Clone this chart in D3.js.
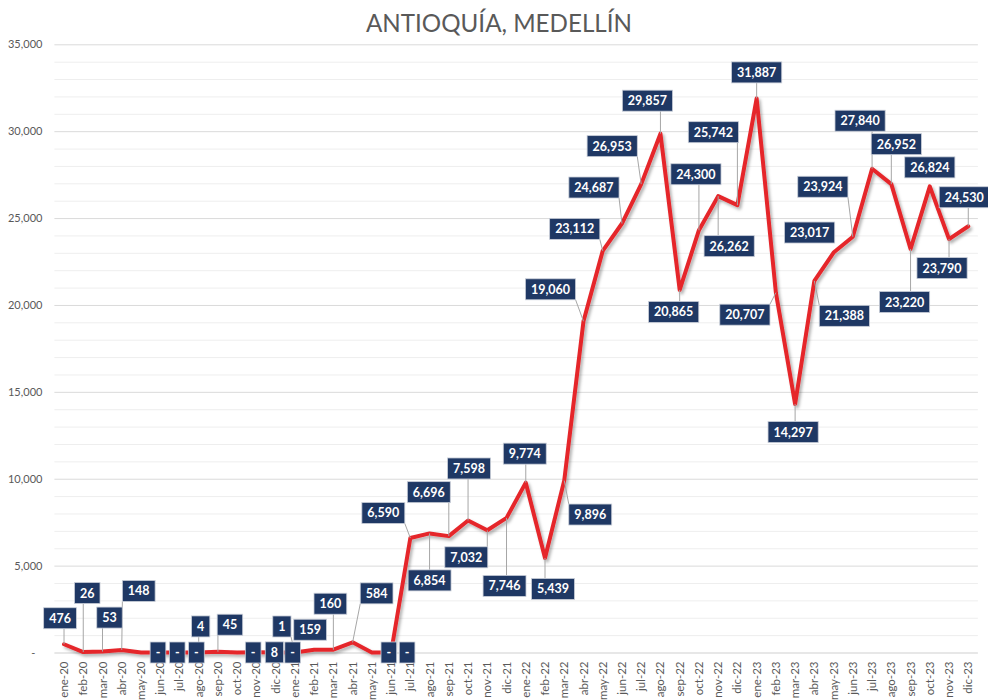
<!DOCTYPE html>
<html>
<head>
<meta charset="utf-8">
<script src="https://cdn.jsdelivr.net/npm/d3@7/dist/d3.min.js"></script>
<style>
  html, body { margin: 0; padding: 0; background: #fff; }
  svg { display: block; }
</style>
</head>
<body>
<svg id="chart" width="988" height="700"></svg>
<script>
// Monthly series, Antioquia - Medellín
const months = [
  "ene-20","feb-20","mar-20","abr-20","may-20","jun-20","jul-20","ago-20","sep-20","oct-20","nov-20","dic-20",
  "ene-21","feb-21","mar-21","abr-21","may-21","jun-21","jul-21","ago-21","sep-21","oct-21","nov-21","dic-21",
  "ene-22","feb-22","mar-22","abr-22","may-22","jun-22","jul-22","ago-22","sep-22","oct-22","nov-22","dic-22",
  "ene-23","feb-23","mar-23","abr-23","may-23","jun-23","jul-23","ago-23","sep-23","oct-23","nov-23","dic-23"
];
const values = [
  476, 26, 53, 148, 0, 0, 0, 4, 45, 0, 8, 0,
  1, 159, 160, 584, 0, 0, 6590, 6854, 6696, 7598, 7032, 7746,
  9774, 5439, 9896, 19060, 23112, 24687, 26953, 29857, 20865, 24300, 26262, 25742,
  31887, 20707, 14297, 21388, 23017, 23924, 27840, 26952, 23220, 26824, 23790, 24530
];
const yTicks = [0, 5000, 10000, 15000, 20000, 25000, 30000, 35000];
const title = "ANTIOQUÍA, MEDELLÍN";

// Label placement: offset of each label centre from its point, in px
const labelOffsets = [
  [-4,-26],[4,-59],[7,-34],[17,-59],[17,0],[17,0],[17,0],[2,-26],[12,-27],[16,0],[18,0],[17,0],
  [-13,-26],[-4,-20],[-3,-46],[24,-49],[17,0],[16,0],[-27,-25],[0,47],[-20,-44],[1,-52],[-21,27],[-2,68],
  [-1,-29],[8,31],[26,34],[-33,-32],[-28,-22],[-28,-36],[-29,-38],[-13,-33],[-6,22],[-3,-56],[11,50],[-24,-73],
  [0,-26],[-31,22],[-2,28],[30,35],[-24,-20],[-30,-50],[-12,-48],[5,-40],[-6,53],[0,-19],[-7,29],[-4,-29]
];

const svg = d3.select("#chart");
const W = 988, H = 700;
const plot = { left: 54.4, right: 977.9, top: 44.3, bottom: 652.5 };

svg.append("rect").attr("width", W).attr("height", H).attr("fill", "#fff");

const defs = svg.append("defs");
const shadow = defs.append("filter").attr("id", "lineShadow")
  .attr("x", "-5%").attr("y", "-5%").attr("width", "110%").attr("height", "110%");
shadow.append("feDropShadow").attr("dx", 2).attr("dy", 2.5)
  .attr("stdDeviation", 1.6).attr("flood-color", "#000").attr("flood-opacity", 0.3);

const x = d3.scaleBand().domain(months).range([plot.left, plot.right]).padding(0);
const y = d3.scaleLinear().domain([0, 35000]).range([plot.bottom, plot.top]);
const cx = m => x(m) + x.bandwidth() / 2;

// Title
svg.append("text")
  .attr("x", 499).attr("y", 32)
  .attr("text-anchor", "middle")
  .attr("font-family", "Lato, 'Open Sans', sans-serif")
  .attr("font-size", 25)
  .attr("fill", "#595959")
  .attr("textLength", 266).attr("lengthAdjust", "spacingAndGlyphs")
  .text(title);

// Gridlines: minor every 1,000 and major every 5,000
const minor = d3.range(1000, 35001, 1000).filter(v => v % 5000 !== 0);
svg.append("g").selectAll("line").data(minor).join("line")
  .attr("x1", plot.left).attr("x2", plot.right)
  .attr("y1", d => y(d) + 0.5).attr("y2", d => y(d) + 0.5)
  .attr("stroke", "#EEEEEE").attr("stroke-width", 1);
svg.append("g").selectAll("line").data(yTicks).join("line")
  .attr("x1", plot.left).attr("x2", plot.right)
  .attr("y1", d => y(d) + 0.5).attr("y2", d => y(d) + 0.5)
  .attr("stroke", d => d === 0 ? "#CFCFCF" : "#DADADA").attr("stroke-width", 1);

// Y axis labels
const yAxis = d3.axisLeft(y).tickValues(yTicks).tickSize(0).tickPadding(0)
  .tickFormat(d => d === 0 ? "-" : d3.format(",")(d));
const gy = svg.append("g").attr("transform", `translate(${plot.left - 12},0)`).call(yAxis);
gy.select(".domain").remove();
gy.selectAll("text")
  .attr("font-family", "Lato, sans-serif").attr("font-size", 11)
  .attr("fill", "#595959")
  .attr("dx", d => d === 0 ? -7 : 0);

// X axis labels, rotated
const xAxis = d3.axisBottom(x).tickSize(0).tickPadding(0);
const gx = svg.append("g").attr("transform", `translate(0,${plot.bottom})`).call(xAxis);
gx.select(".domain").remove();
gx.selectAll("text")
  .attr("font-family", "Lato, sans-serif").attr("font-size", 11.5)
  .attr("fill", "#595959")
  .attr("text-anchor", "end")
  .attr("transform", "rotate(-90)")
  .attr("x", -9).attr("y", 0).attr("dy", "0.35em");

// Series line
const line = d3.line()
  .x((d, i) => cx(months[i]))
  .y(d => y(d));
svg.append("path")
  .datum(values)
  .attr("d", line)
  .attr("fill", "none")
  .attr("stroke", "#E5262B")
  .attr("stroke-width", 4)
  .attr("stroke-linejoin", "round")
  .attr("stroke-linecap", "round")
  .attr("filter", "url(#lineShadow)");

// Data labels with leader lines
const fmt = v => v === 0 ? "-" : d3.format(",")(v);
const leaders = svg.append("g");
const labels = svg.append("g");
values.forEach((v, i) => {
  const px = cx(months[i]), py = y(v);
  const [dx, dy] = labelOffsets[i];
  const lx = px + dx, ly = py + dy;
  const g = labels.append("g");
  const rect = g.append("rect");
  const t = g.append("text")
    .attr("x", lx).attr("y", ly).attr("dy", "0.36em")
    .attr("text-anchor", "middle")
    .attr("font-family", "Lato, sans-serif").attr("font-weight", 700)
    .attr("font-size", 12.5).attr("fill", "#fff")
    .text(fmt(v));
  const w = t.node().getComputedTextLength() + 11, h = 21;
  const bx = lx - w / 2, by = ly - h / 2;
  rect.attr("x", bx).attr("y", by).attr("width", w).attr("height", h)
    .attr("fill", "#1F3864").attr("stroke", "#C9CED8").attr("stroke-width", 0.8);
  // leader from the nearest point on the box to the data point
  const ex = Math.max(bx, Math.min(px, bx + w));
  const ey = Math.max(by, Math.min(py, by + h));
  if (Math.hypot(px - ex, py - ey) > 10) {
    leaders.append("line")
      .attr("x1", ex).attr("y1", ey).attr("x2", px).attr("y2", py)
      .attr("stroke", "#A6A6A6").attr("stroke-width", 1);
  }
});
</script>
</body>
</html>
